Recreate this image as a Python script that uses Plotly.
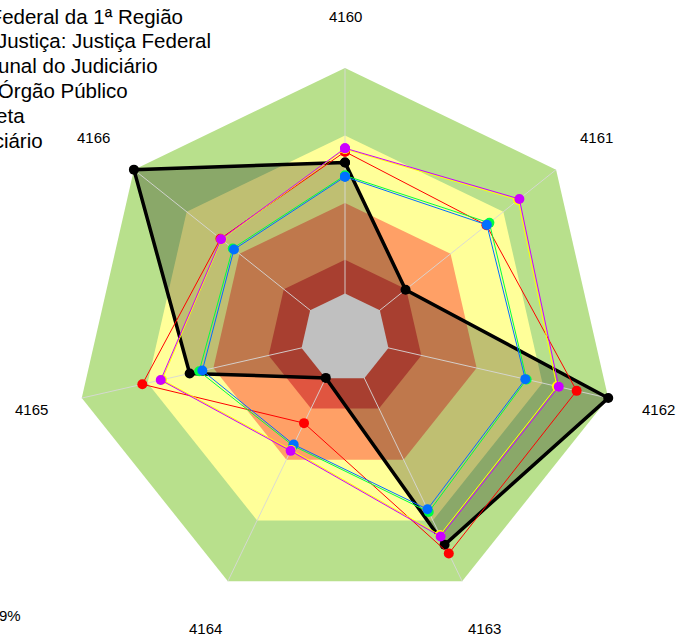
import math
import plotly.graph_objects as go

# ---------------- data ----------------
categories = ["4160", "4161", "4162", "4163", "4164", "4165", "4166"]

# background bands (outer value of each band)
band_levels = [100, 75, 50, 29, 16.5]
band_colors = ["#b8e08c", "#ffff99", "#ffa066", "#e05540", "#c0c0c0"]

series_names = [
    "Tribunal Regional Federal da 1ª Região",
    "Ramo de Justiça: Justiça Federal",
    "Média por Tribunal do Judiciário",
    "Média por Órgão Público",
    "Meta",
    "Média do Judiciário",
]
trf1 = [65, 28.7, 100, 85, 16.4, 59, 100]
red_vals = [69, 67, 88, 88.6, 35, 77, 59]
green_vals = [60.2, 68.4, 69, 71.5, 44.3, 55.4, 53.2]
blue_vals = [59.7, 67.2, 68.5, 70.4, 43.8, 54.2, 52.6]
yellow_vals = [70, 82, 80.5, 81, 46, 69.5, 58.5]
magenta_vals = [70.3, 82.6, 81.2, 81.6, 46.4, 70, 58.7]

footer_text = "9%"

# ---------------- figure ----------------
W, H = 677, 637
CX, CY = 345, 338          # centre in pixels (from top-left)
R_FULL = 270               # pixel radius of value 100
R_DOM = 298                # pixel radius of polar domain
R_LABEL = 322              # pixel radius of category labels
rmax = 100 * R_DOM / R_FULL

theta = categories + [categories[0]]

def close(v):
    return list(v) + [v[0]]

fig = go.Figure()

# bands except gray centre
for lvl, col in zip(band_levels[:-1], band_colors[:-1]):
    fig.add_trace(go.Scatterpolar(r=[lvl] * 8, theta=theta, mode="lines",
                                  fill="toself", fillcolor=col,
                                  line=dict(width=0, color=col),
                                  hoverinfo="skip", showlegend=False))

# translucent fill of the main series
fig.add_trace(go.Scatterpolar(r=close(trf1), theta=theta, mode="lines",
                              fill="toself", fillcolor="rgba(0,0,0,0.25)",
                              line=dict(width=0, color="rgba(0,0,0,0)"),
                              hoverinfo="skip", showlegend=False))

# spokes
for c in categories:
    fig.add_trace(go.Scatterpolar(r=[0, 100], theta=[c, c], mode="lines",
                                  line=dict(width=1, color="rgba(215,215,215,0.9)"),
                                  hoverinfo="skip", showlegend=False))

# gray centre
fig.add_trace(go.Scatterpolar(r=[band_levels[-1]] * 8, theta=theta, mode="lines",
                              fill="toself", fillcolor=band_colors[-1],
                              line=dict(width=0, color=band_colors[-1]),
                              hoverinfo="skip", showlegend=False))

# series
fig.add_trace(go.Scatterpolar(r=close(trf1), theta=theta, mode="lines+markers",
                              name=series_names[0],
                              line=dict(color="black", width=3.5),
                              marker=dict(color="black", size=10),
                              showlegend=False))
series = [
    (red_vals, "#ff0000", series_names[1]),
    (green_vals, "#00ff40", series_names[2]),
    (blue_vals, "#0070ff", series_names[3]),
    (yellow_vals, "#ffff00", series_names[5]),
    (magenta_vals, "#cc00ff", series_names[4]),
]
for vals, col, nm in series:
    fig.add_trace(go.Scatterpolar(r=close(vals), theta=theta, mode="lines+markers",
                                  name=nm, line=dict(color=col, width=1),
                                  marker=dict(color=col, size=10),
                                  showlegend=False))

font_family = "Liberation Sans, Arial, sans-serif"
annotations = []

# category labels on a ring outside the heptagon
n = len(categories)
for i, c in enumerate(categories):
    ang = math.radians(90 - 360 * i / n)
    px = CX + R_LABEL * math.cos(ang)
    py = CY - R_LABEL * math.sin(ang)
    annotations.append(dict(text=c, xref="paper", yref="paper",
                            x=px / W, y=1 - py / H, xanchor="center", yanchor="middle",
                            showarrow=False,
                            font=dict(size=15, color="black", family=font_family)))

# legend-like texts, clipped by the left edge as in the original
legend_right = [185, 213, 160, 130, 27, 45]
for i, (txt, xr) in enumerate(zip(series_names, legend_right)):
    annotations.append(dict(text=txt, xref="paper", yref="paper",
                            x=xr / W, y=1 - (16 + 24.8 * i) / H,
                            xanchor="right", yanchor="middle", showarrow=False,
                            font=dict(size=20.5, color="black", family=font_family)))
annotations.append(dict(text=footer_text, xref="paper", yref="paper",
                        x=23 / W, y=1 - 615 / H, xanchor="right", yanchor="middle",
                        showarrow=False,
                        font=dict(size=15, color="black", family=font_family)))

fig.update_layout(
    width=W, height=H,
    margin=dict(l=0, r=0, t=0, b=0),
    paper_bgcolor="white",
    showlegend=False,
    annotations=annotations,
    polar=dict(
        domain=dict(x=[(CX - R_DOM) / W, (CX + R_DOM) / W],
                    y=[(H - CY - R_DOM) / H, (H - CY + R_DOM) / H]),
        bgcolor="rgba(0,0,0,0)",
        gridshape="linear",
        radialaxis=dict(visible=False, range=[0, rmax], showgrid=False),
        angularaxis=dict(rotation=90, direction="clockwise", showgrid=False,
                         showline=False, ticks="", showticklabels=False,
                         categoryorder="array", categoryarray=categories),
    ),
)

fig.write_html("out.html", config={"displayModeBar": False},
               post_script="document.body.style.margin='0px';document.body.style.overflow='hidden';")
